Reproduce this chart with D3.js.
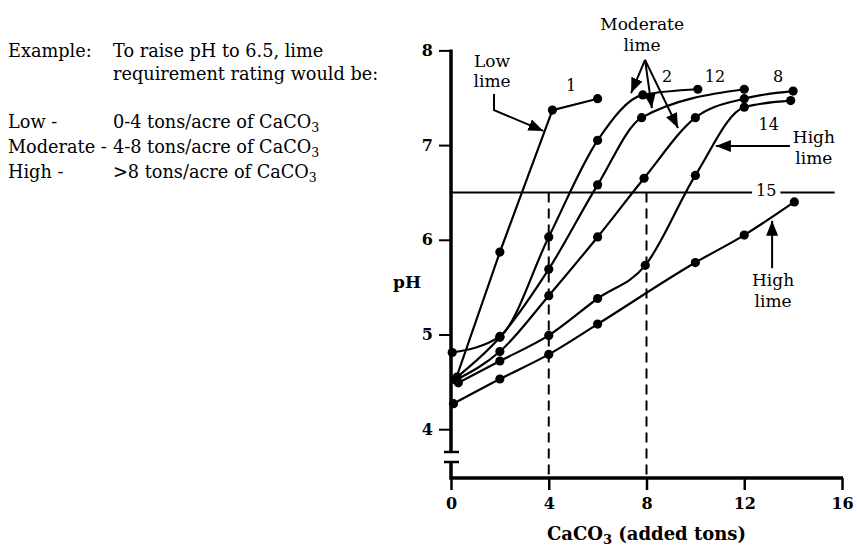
<!DOCTYPE html>
<html><head><meta charset="utf-8">
<script src="https://cdn.jsdelivr.net/npm/d3@7"></script>
<style>
body{margin:0;background:#fff;}
svg{display:block;font-family:"DejaVu Serif",serif;}
</style></head><body>
<svg id="chart" width="857" height="548"></svg>
<script>
// ---------- data ----------
const xTicks = [0, 4, 8, 12, 16];
const yTicks = [4, 5, 6, 7, 8];
const soil1  = [[0.2,4.53],[2,5.87],[4.15,7.37],[6,7.49]];
const soil2  = [[0.05,4.81],[2,4.98],[4,6.03],[6,7.05],[7.85,7.53],[10.1,7.59]];
const soil12 = [[0.25,4.55],[2,4.97],[4,5.69],[6,6.58],[7.8,7.29],[12,7.59]];
const soil8  = [[0.2,4.52],[2,4.82],[4,5.41],[6,6.03],[7.9,6.65],[10,7.29],[12,7.49],[14,7.57]];
const soil14 = [[0.3,4.49],[2,4.72],[4,4.99],[6,5.38],[7.95,5.73],[10,6.68],[12,7.40],[13.9,7.47]];
const soil15 = [[0.1,4.27],[2,4.53],[4,4.79],[6,5.11],[10,5.76],[12,6.05],[14.05,6.40]];
const seriesNames = ["1","2","12","8","14","15"];
const seriesValues = [soil1, soil2, soil12, soil8, soil14, soil15];
// curve labels [tons, pH] of label anchor
const labelPos = [[4.91,7.57],[8.84,7.67],[10.8,7.67],[13.38,7.67],[13.0,7.16],[12.9,6.46]];
const targetPH = 6.5;
const guideTons = [4, 8];
const refLineEnd = 15.7;

const noteHead = ["Example:", "To raise pH to 6.5, lime", "requirement rating would be:"];
const ratingNames = ["Low -", "Moderate -", "High -"];
const ratingRanges = ["0-4", "4-8", ">8"];

// annotations in data units
const annLow = {lines:["Low","lime"], at:[1.68,7.825], arrow:[[1.76,7.54],[1.76,7.37],[3.78,7.15]]};
const annMod = {lines:["Moderate","lime"], at:[7.82,8.215], origin:[7.94,7.90], tips:[[7.37,7.55],[8.22,7.39],[9.29,7.18]]};
const annHigh1 = {lines:["High","lime"], at:[14.85,7.02], arrow:[[13.87,6.99],[10.84,6.99]]};
const annHigh2 = {lines:["High","lime"], at:[13.18,5.51], arrow:[[13.14,5.70],[13.14,6.20]]};

// ---------- layout ----------
const W = 857, H = 548;
const X0 = 451, X1 = 842, Y8 = 50.4, Y4 = 429.2, AXY = 478;
const BREAK1 = 452, BREAK2 = 462;
const FS = 17;
const NOTE_FS = 17.7;

const svg = d3.select("#chart");
svg.append("rect").attr("width",W).attr("height",H).attr("fill","#fff");

const x = d3.scaleLinear().domain([0,16]).range([X0,X1]);
const y = d3.scaleLinear().domain([4,8]).range([Y4,Y8]);

// arrow marker
const defs = svg.append("defs");
defs.append("marker").attr("id","ah").attr("markerUnits","userSpaceOnUse")
  .attr("markerWidth",16).attr("markerHeight",14).attr("refX",15).attr("refY",6)
  .attr("orient","auto")
  .append("path").attr("d","M0,0 L15,6 L0,12 Z").attr("fill","#000");

// ---------- note text ----------
const note = svg.append("g").attr("font-size",NOTE_FS).attr("fill","#000");
note.append("text").attr("x",8).attr("y",57).text(noteHead[0]);
note.append("text").attr("x",113).attr("y",57).text(noteHead[1]);
note.append("text").attr("x",113).attr("y",80).text(noteHead[2]);
const rowY = [128, 153, 178];
ratingNames.forEach((n,i)=>{
  note.append("text").attr("x",8).attr("y",rowY[i]).text(n);
  const t = note.append("text").attr("x",113).attr("y",rowY[i]);
  t.append("tspan").text(ratingRanges[i] + " tons/acre of CaCO");
  t.append("tspan").attr("font-size",12.5).attr("dy",4).text("3");
});

// ---------- axes ----------
const gx = svg.append("g").attr("transform",`translate(0,${AXY})`)
  .call(d3.axisBottom(x).tickValues(xTicks).tickSize(12).tickPadding(8).tickFormat(d3.format("d")));
gx.select(".domain").remove();
gx.selectAll(".tick line").attr("stroke","#000").attr("stroke-width",2.5);
gx.selectAll(".tick text").attr("font-family","DejaVu Serif").attr("font-size",16).attr("font-weight","bold").attr("fill","#000");

const gy = svg.append("g").attr("transform",`translate(${X0},0)`)
  .call(d3.axisLeft(y).tickValues(yTicks).tickSize(12).tickPadding(6).tickFormat(d3.format("d")));
gy.select(".domain").remove();
gy.selectAll(".tick line").attr("stroke","#000").attr("stroke-width",2);
gy.selectAll(".tick text").attr("font-family","DejaVu Serif").attr("font-size",16).attr("font-weight","bold").attr("fill","#000");

// axis lines with break
svg.append("line").attr("x1",x(0)-1.75).attr("x2",x(16)+1).attr("y1",AXY).attr("y2",AXY).attr("stroke","#000").attr("stroke-width",3.5);
svg.append("line").attr("x1",x(0)).attr("x2",x(0)).attr("y1",y(8)-1).attr("y2",BREAK1).attr("stroke","#000").attr("stroke-width",3.5);
svg.append("line").attr("x1",x(0)).attr("x2",x(0)).attr("y1",BREAK2).attr("y2",AXY).attr("stroke","#000").attr("stroke-width",3.5);
[BREAK1,BREAK2].forEach(b=>{
  svg.append("line").attr("x1",x(0)-7).attr("x2",x(0)+8).attr("y1",b).attr("y2",b).attr("stroke","#000").attr("stroke-width",2.5);
});

// axis titles
svg.append("text").attr("x",407).attr("y",288).attr("text-anchor","middle")
  .attr("font-size",FS).attr("font-weight","bold").text("pH");
const xt = svg.append("text").attr("x",(x(0)+x(16))/2).attr("y",540).attr("text-anchor","middle")
  .attr("font-size",18).attr("font-weight","bold");
xt.append("tspan").text("CaCO");
xt.append("tspan").attr("font-size",13).attr("dy",4).text("3");
xt.append("tspan").attr("dy",-4).text(" (added tons)");

// ---------- guide lines ----------
guideTons.forEach(t=>{
  svg.append("line").attr("x1",x(t)).attr("x2",x(t)).attr("y1",y(targetPH)).attr("y2",AXY)
    .attr("stroke","#000").attr("stroke-width",2).attr("stroke-dasharray","10,6");
});
svg.append("line").attr("x1",x(0)).attr("x2",x(refLineEnd)).attr("y1",y(targetPH)).attr("y2",y(targetPH))
  .attr("stroke","#000").attr("stroke-width",2);

// ---------- curves ----------
const smooth = d3.line().x(d=>x(d[0])).y(d=>y(d[1])).curve(d3.curveMonotoneX);
const straight = d3.line().x(d=>x(d[0])).y(d=>y(d[1]));
const gc = svg.append("g");
seriesValues.forEach((vals,i)=>{
  const gen = seriesNames[i] === "1" ? straight : smooth;
  gc.append("path").attr("d",gen(vals)).attr("fill","none").attr("stroke","#000").attr("stroke-width",2.2);
});
seriesValues.forEach((vals,i)=>{
  gc.selectAll(null).data(vals).enter().append("circle")
    .attr("cx",d=>x(d[0])).attr("cy",d=>y(d[1])).attr("r",4.6).attr("fill","#000");
});

// curve labels
seriesNames.forEach((n,i)=>{
  const p = labelPos[i];
  const t = svg.append("text").attr("x",x(p[0])).attr("y",y(p[1])).attr("text-anchor","middle")
    .attr("font-size",16).text(n);
  if (n === "15") {
    const bb = t.node().getBBox();
    svg.insert("rect", function(){ return t.node(); })
      .attr("x",bb.x-4).attr("y",bb.y+2).attr("width",bb.width+8).attr("height",bb.height-4).attr("fill","#fff");
  }
});

// ---------- annotations ----------
function annText(a){
  a.lines.forEach((s,k)=>{
    svg.append("text").attr("x",x(a.at[0])).attr("y",y(a.at[1])+k*20.5).attr("text-anchor","middle")
      .attr("font-size",FS).text(s);
  });
}
function arrowPath(pts){
  svg.append("path").attr("d",d3.line().x(d=>x(d[0])).y(d=>y(d[1]))(pts))
    .attr("fill","none").attr("stroke","#000").attr("stroke-width",2).attr("marker-end","url(#ah)");
}
annText(annLow); arrowPath(annLow.arrow);
annText(annMod); annMod.tips.forEach(tp=>arrowPath([annMod.origin,tp]));
annText(annHigh1); arrowPath(annHigh1.arrow);
annText(annHigh2); arrowPath(annHigh2.arrow);
</script>
</body></html>
